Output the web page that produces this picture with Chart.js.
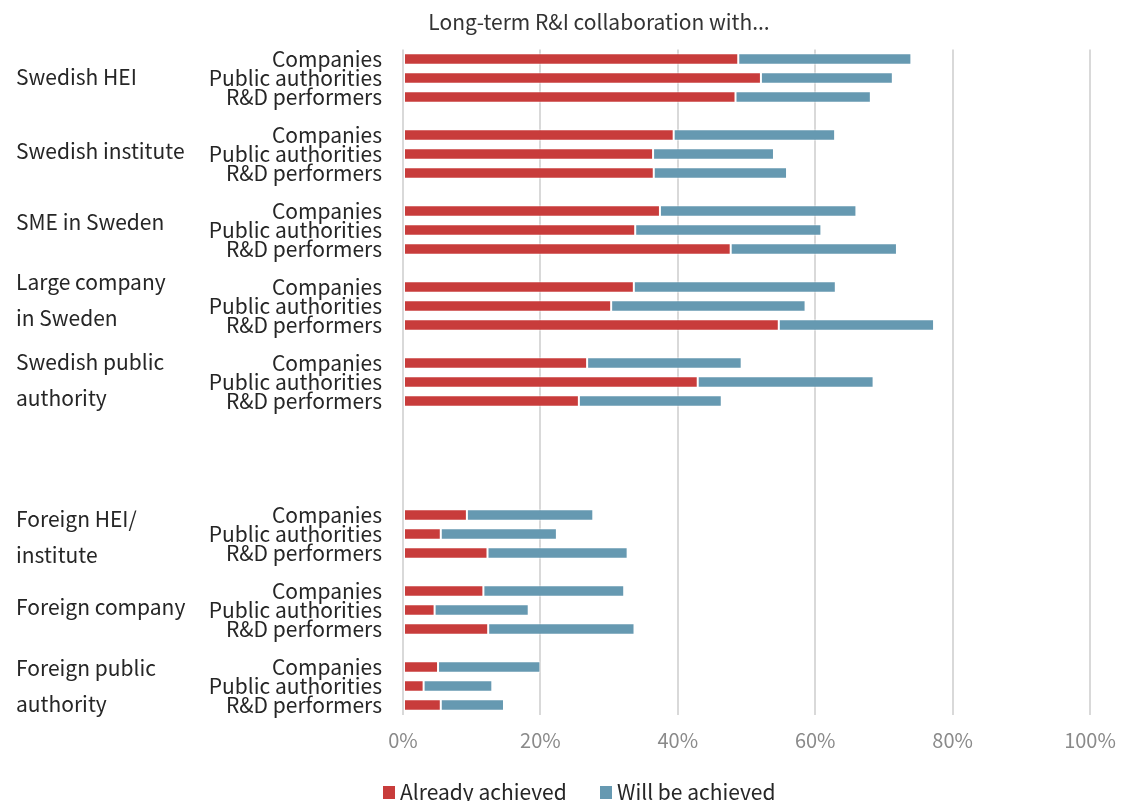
<!DOCTYPE html>
<html>
<head>
<meta charset="utf-8">
<script src="https://cdn.jsdelivr.net/npm/chart.js@4/dist/chart.umd.min.js"></script>
<style>
  html, body { margin: 0; padding: 0; background: #ffffff; }
  #wrap { width: 1124px; height: 801px; position: relative; }
</style>
</head>
<body>
<div id="wrap"><canvas id="chart" width="1124" height="801"></canvas></div>
<script>
// Partner types shown for every organisation group
const partners = ['Companies', 'Public authorities', 'R&D performers'];

// Organisation groups (line breaks as displayed)
const groups = [
  ['Swedish HEI'],
  ['Swedish institute'],
  ['SME in Sweden'],
  ['Large company', 'in Sweden'],
  ['Swedish public', 'authority'],
  ['Foreign HEI/', 'institute'],
  ['Foreign company'],
  ['Foreign public', 'authority']
];

// Vertical nudge (px) of each group name relative to its middle row
const groupNudge = [-1, -3, -8, -6, -2, 3, -3, 0];

// Share (%) already achieved, three values per group in partner order
const achieved = [
  48.8, 52.1, 48.4,
  39.4, 36.4, 36.5,
  37.4, 33.8, 47.7,
  33.6, 30.3, 54.7,
  26.8, 42.9, 25.6,
   9.3,  5.5, 12.3,
  11.7,  4.6, 12.4,
   5.1,  3.0,  5.5
];

// Additional share (%) that will be achieved
const willBe = [
  25.2, 19.2, 19.7,
  23.5, 17.6, 19.4,
  28.6, 27.1, 24.2,
  29.4, 28.3, 22.6,
  22.5, 25.6, 20.8,
  18.4, 16.9, 20.4,
  20.5, 13.7, 21.3,
  14.9, 10.0,  9.2
];

const xTicks = [0, 20, 40, 60, 80, 100];
const seriesNames = ['Already achieved', 'Will be achieved'];
const seriesColors = ['#c83c3b', '#6699b1'];
const titleText = 'Long-term R&I collaboration with...';

// Swedish and foreign blocks are separated by one empty group slot
const swedishCount = 5;

// Build the row layout: 3 rows per group, blank spacer rows between groups
const rowLabels = [], rowAchieved = [], rowWill = [], groupMidRow = [];
groups.forEach((g, gi) => {
  if (gi > 0) { rowLabels.push(''); rowAchieved.push(null); rowWill.push(null); }
  if (gi === swedishCount) {
    for (let k = 0; k < 4; k++) { rowLabels.push(''); rowAchieved.push(null); rowWill.push(null); }
  }
  partners.forEach((p, pi) => {
    if (pi === 1) groupMidRow.push(rowLabels.length);
    rowLabels.push(p);
    rowAchieved.push(achieved[gi * 3 + pi]);
    rowWill.push(willBe[gi * 3 + pi]);
  });
});

const FONT = '"Noto Sans CJK JP", "Noto Sans", sans-serif';

// Group names on the left plus the title and legend
const decorations = {
  id: 'decorations',
  afterDraw(chart) {
    const ctx = chart.ctx;
    const y = chart.scales.y;
    ctx.save();
    ctx.fillStyle = '#262626';
    ctx.font = '21px ' + FONT;
    ctx.textAlign = 'left';
    ctx.textBaseline = 'middle';
    groups.forEach((lines, gi) => {
      const cy = y.getPixelForValue(groupMidRow[gi]) + groupNudge[gi];
      const lh = 35.5;
      const start = cy - (lines.length - 1) * lh / 2;
      lines.forEach((t, li) => ctx.fillText(t, 16, start + li * lh));
    });

    // title
    ctx.font = '21px ' + FONT;
    ctx.fillStyle = '#333333';
    ctx.textAlign = 'center';
    ctx.fillText(titleText, 599, 22);

    // legend
    ctx.font = '21px ' + FONT;
    ctx.textAlign = 'left';
    const legendX = [383, 600];
    const ly = 792;
    seriesNames.forEach((name, i) => {
      ctx.fillStyle = seriesColors[i];
      ctx.fillRect(legendX[i], ly - 6, 12, 13);
      ctx.fillStyle = '#262626';
      ctx.fillText(name, legendX[i] + 17, ly);
    });
    ctx.restore();
  }
};

new Chart(document.getElementById('chart'), {
  type: 'bar',
  data: {
    labels: rowLabels,
    datasets: [
      {
        label: seriesNames[0], data: rowAchieved,
        backgroundColor: seriesColors[0],
        borderColor: 'rgba(255,255,255,0.55)', borderWidth: 1, borderSkipped: false,
        barPercentage: 0.6, categoryPercentage: 1
      },
      {
        label: seriesNames[1], data: rowWill,
        backgroundColor: seriesColors[1],
        borderColor: 'rgba(255,255,255,0.55)', borderWidth: 1, borderSkipped: false,
        barPercentage: 0.6, categoryPercentage: 1
      }
    ]
  },
  options: {
    indexAxis: 'y',
    responsive: false,
    animation: false,
    layout: { padding: { top: 49.5, right: 34, bottom: 0, left: 0 } },
    plugins: { legend: { display: false }, tooltip: { enabled: false }, title: { display: false } },
    scales: {
      x: {
        stacked: true, min: 0, max: 100,
        afterBuildTicks(scale) { scale.ticks = xTicks.map(v => ({ value: v })); },
        afterFit(scale) { scale.height = 86.5; scale.paddingRight = 0; scale.paddingLeft = 0; },
        grid: { color: '#d9d9d9', lineWidth: 2, drawTicks: false },
        border: { display: false },
        ticks: {
          padding: 14, color: '#8a8a8a',
          font: { family: FONT, size: 20 },
          callback: v => v + '%'
        }
      },
      y: {
        stacked: true,
        afterFit(scale) { scale.width = 403; },
        grid: { display: false, drawTicks: false },
        border: { display: false },
        ticks: {
          autoSkip: false, padding: 21, color: '#262626',
          font: { family: FONT, size: 21, lineHeight: 1 }
        }
      }
    }
  },
  plugins: [decorations]
});
</script>
</body>
</html>
